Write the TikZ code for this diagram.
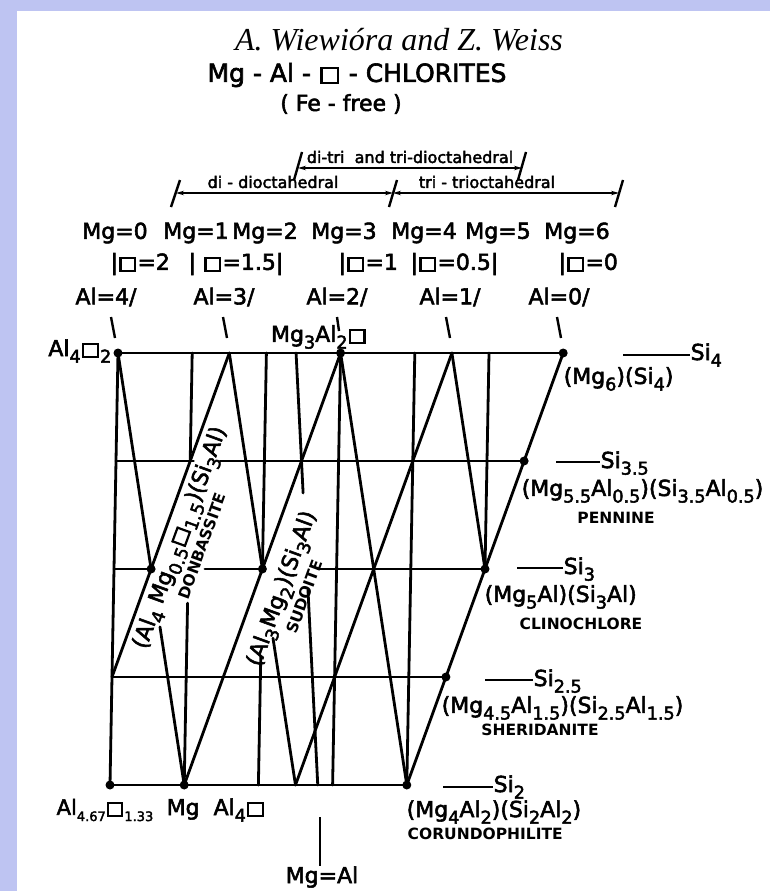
\documentclass[tikz,border=0pt]{standalone}
\usepackage{fontspec}
\usepackage{graphicx}
\setmainfont{DejaVu Sans}
\newfontfamily\lett{DejaVu Sans}[FakeBold=2.5]
\newfontfamily\titlefont{Liberation Serif}
\usetikzlibrary{arrows.meta,calc}
\definecolor{band}{RGB}{190,196,242}
\newcommand\sbs[1]{\raisebox{-0.3em}{\scalebox{0.8}{#1}}}
\newcommand\ssb[1]{\raisebox{-0.3em}{\scalebox{0.62}{#1}}}
\newcommand\vac{\kern0.06em\setlength\fboxsep{0pt}\setlength\fboxrule{0.1em}\fbox{\rule{0pt}{0.5em}\rule{0.56em}{0pt}}\kern0.06em}
\newcommand\fs[1]{\fontsize{#1}{#1}\selectfont}
\begin{document}
\begin{tikzpicture}[x=1pt,y=-1pt,
  gl/.style={line width=2.8pt, line cap=round},
  dot/.style={circle, fill=black, inner sep=0pt, minimum size=9pt},
  txt/.style={font=\lett\fs{22}, inner sep=0.5pt},
  nm/.style={font=\fs{15.5}\bfseries, inner sep=0.5pt},
  rotlbl/.style={inner sep=0pt, rotate=70, align=center, font=\lett\fs{22}},
  tickm/.style={line width=2.4pt},
  dimarrow/.style={line width=1.5pt, {Stealth[length=8pt,width=4.5pt]}-{Stealth[length=8pt,width=4.5pt]}},
]
\useasboundingbox (0,0) rectangle (770,891);
\fill[band] (0,0) rectangle (770,891);
\fill[white] (17,11) rectangle (770,891);

% ---------- grid in (Mg, Si) coordinates ----------
\begin{scope}[shift={(102pt,-1217pt)}, x={(74.2pt,0pt)}, y={(4pt,216pt)}]
  \coordinate (T0) at (0,4);   \coordinate (T1) at (1,4);
  \coordinate (T15) at (1.5,4); \coordinate (T2) at (2,4);
  \coordinate (T24) at (2.4,4); \coordinate (T3) at (3,4);
  \coordinate (T4) at (4,4);   \coordinate (T45) at (4.5,4);
  \coordinate (T5) at (5,4);   \coordinate (T6) at (6,4);
  \coordinate (QL) at (0,3.5); \coordinate (QR) at (5.5,3.5);
  \coordinate (Q1) at (1,3.5);
  \coordinate (HL) at (0,3);   \coordinate (HR) at (5,3);
  \coordinate (DB) at (0.5,3); \coordinate (SD) at (2,3);
  \coordinate (FL) at (0,2.5); \coordinate (FR) at (4.5,2.5);
  \coordinate (B0) at (0,2);   \coordinate (B1) at (1,2);
  \coordinate (B2) at (2,2);   \coordinate (B25) at (2.5,2);
  \coordinate (B28) at (2.8,2); \coordinate (B3) at (3,2);
  \coordinate (B4) at (4,2);
\end{scope}

% horizontals
\draw[gl] (T0) -- (T6);
\draw[gl] (QL) -- ($(QL)!0.19!(QR)$) ($(QL)!0.255!(QR)$) -- (QR);
\draw[gl] (HL) -- (DB) ($(HL)!0.245!(HR)$) -- (SD) ($(HL)!0.55!(HR)$) -- (HR);
\draw[gl] (FL) -- (FR);
\draw[gl] (B0) -- (B4);
% verticals (Mg = const)
\draw[gl] (T0) -- (B0);
\draw[gl] (T1) -- (Q1) ($(T1)!0.579!(B1)$) -- (B1);
\draw[gl] (T2) -- (SD) ($(T2)!0.704!(B2)$) -- (B2);
\draw[gl] (T3) -- (B3);
\draw[gl] (T4) -- (B4);
\draw[gl] (T5) -- (HR);
% Al = const
\draw[gl] (T0) -- (DB) ($(T0)!0.634!(B1)$) -- (B1);
\draw[gl] (T15) -- (SD) ($(T15)!0.66!(B25)$) -- (B25);
\draw[gl] (T3) -- (B4);
\draw[gl] (T45) -- (HR);
% vacancy = const
\draw[gl] (T15) -- (FL);
\draw[gl] (T3) -- (B1);
\draw[gl] (T45) -- (B25);
\draw[gl] (T6) -- (B4);
% Mg = Al
\draw[gl] (T24) -- ($(T24)!0.324!(B28)$) ($(T24)!0.549!(B28)$) -- (B28);

% dots
\foreach \p in {T0,T3,T6,QR,HR,DB,SD,FR,B0,B1,B4}
  \node[dot] at (\p) {};

% ---------- rotated labels ----------
\node[rotlbl] (don) at (189,541)
  {(Al\sbs{4} Mg\sbs{0.5}\vac\sbs{1.5})(Si\sbs{3}Al)\\[1pt]{\fontspec{DejaVu Sans}\fs{15.5}\bfseries DONBASSITE}};
\node[rotlbl] (sud) at (291,592)
  {(Al\sbs{3}Mg\sbs{2})(Si\sbs{3}Al)\\[1pt]{\fontspec{DejaVu Sans}\fs{15.5}\bfseries SUDOITE}};

% ---------- title ----------
\node[font=\titlefont\itshape\fs{32}] (title) at (399,40) {A. Wiewióra and Z. Weiss};
\node[font=\lett\fs{25}] (sub) at (357,75) {Mg - Al - \vac{} - CHLORITES};
\node[font=\lett\fs{22}] (fe) at (341,104) {( Fe - free )};

% ---------- range brackets ----------
\node[font=\lett\fs{16}, inner sep=1pt] (ditri) at (410,157) {di-tri\ \ and tri-dioctahedral};
\coordinate (dtL) at (298,168); \coordinate (dtR) at (522,168);
\draw[dimarrow] (dtL) -- (dtR);
\draw[tickm] (294,180) -- (302,152);
\draw[tickm] (518,180) -- (526,152);

\node[font=\lett\fs{16}, inner sep=1pt] (didi) at (273,182) {di - dioctahedral};
\node[font=\lett\fs{16}, inner sep=1pt] (tritri) at (487,182) {tri - trioctahedral};
\coordinate (ddL) at (176,193); \coordinate (ddM) at (393,193); \coordinate (ddR) at (619,193);
\draw[dimarrow] (ddL) -- (ddM);
\draw[dimarrow] (ddM) -- (ddR);
\draw[tickm] (171,207) -- (180,180);
\draw[tickm] (389,207) -- (397,180);
\draw[tickm] (615,207) -- (623,180);

% ---------- Mg row ----------
\node[txt] (mg0) at (115,233) {Mg=0};
\node[txt] (mg1) at (196,233) {Mg=1};
\node[txt] (mg2) at (265,233) {Mg=2};
\node[txt] (mg3) at (344,233) {Mg=3};
\node[txt] (mg4) at (424,233) {Mg=4};
\node[txt] (mg5) at (498,233) {Mg=5};
\node[txt] (mg6) at (577,233) {Mg=6};
% vacancy row
\node[txt, anchor=west] (v2) at (110,264) {|\vac=2};
\node[txt, anchor=west] (v15) at (188,264) {| \vac=1.5|};
\node[txt, anchor=west] (v1) at (338,264) {|\vac=1};
\node[txt, anchor=west] (v05) at (410,264) {|\vac=0.5|};
\node[txt, anchor=west] (v0) at (558,264) {|\vac=0};
% Al row
\node[txt] (al4) at (106,297) {Al=4/};
\node[txt] (al3) at (224,297) {Al=3/};
\node[txt] (al2) at (337,297) {Al=2/};
\node[txt] (al1) at (450,297) {Al=1/};
\node[txt] (al0) at (559,297) {Al=0/};
\draw[tickm] (111,317) -- (115,338);
\draw[tickm] (223,317) -- (227,338);
\draw[tickm] (337,317) -- (339,331);
\draw[tickm] (446,317) -- (450,338);
\draw[tickm] (557,317) -- (561,338);

% ---------- point labels ----------
\node[txt, anchor=east] (al4v2) at (112,351) {Al\sbs{4}\vac\sbs{2}};
\node[txt] (mg3al2) at (319,337) {Mg\sbs{3}Al\sbs{2}\vac};

% row Si4
\node[txt, anchor=base west] (si4) at (690,360) {Si\sbs{4}};
\coordinate (d4) at (623,355);
\draw[tickm] (d4) -- (si4.west |- d4);
\node[txt, anchor=west] (f4) at (563,379) {(Mg\sbs{6})(Si\sbs{4})};
% row Si3.5
\node[txt, anchor=base west] (si35) at (600,468) {Si\sbs{3.5}};
\coordinate (d35) at (556,462);
\draw[tickm] (d35) -- (si35.west |- d35);
\node[txt, anchor=west] (f35) at (521,491) {(Mg\sbs{5.5}Al\sbs{0.5})(Si\sbs{3.5}Al\sbs{0.5})};
\node[nm] (pen) at (616,518) {PENNINE};
% row Si3
\node[txt, anchor=base west] (si3) at (563,574) {Si\sbs{3}};
\coordinate (d3) at (517,568);
\draw[tickm] (d3) -- (si3.west |- d3);
\node[txt, anchor=west] (f3) at (484,597) {(Mg\sbs{5}Al)(Si\sbs{3}Al)};
\node[nm] (cli) at (581,624) {CLINOCHLORE};
% row Si2.5
\node[txt, anchor=base west] (si25) at (533,686) {Si\sbs{2.5}};
\coordinate (d25) at (485,680);
\draw[tickm] (d25) -- (si25.west |- d25);
\node[txt, anchor=west] (f25) at (441,708) {(Mg\sbs{4.5}Al\sbs{1.5})(Si\sbs{2.5}Al\sbs{1.5})};
\node[nm] (she) at (540,730) {SHERIDANITE};
% row Si2
\node[txt, anchor=base west] (si2) at (493,792) {Si\sbs{2}};
\coordinate (d2) at (443,787);
\draw[tickm] (d2) -- (si2.west |- d2);
\node[txt, anchor=west] (f2) at (406,812) {(Mg\sbs{4}Al\sbs{2})(Si\sbs{2}Al\sbs{2})};
\node[nm, anchor=west] (cor) at (407,834) {CORUNDOPHILITE};

% bottom labels
\node[txt, font=\lett\fs{21}] (al467) at (105,810) {Al\ssb{4.67}\vac\ssb{1.33}};
\node[txt] (mgal4) at (216,810) {Mg\ \ Al\sbs{4}\vac};
\node[txt] (mgeqal) at (322,877) {Mg=Al};
\coordinate (mt) at (320,817);
\draw[tickm] (mt) -- (mgeqal.north -| mt);
\end{tikzpicture}
\end{document}
